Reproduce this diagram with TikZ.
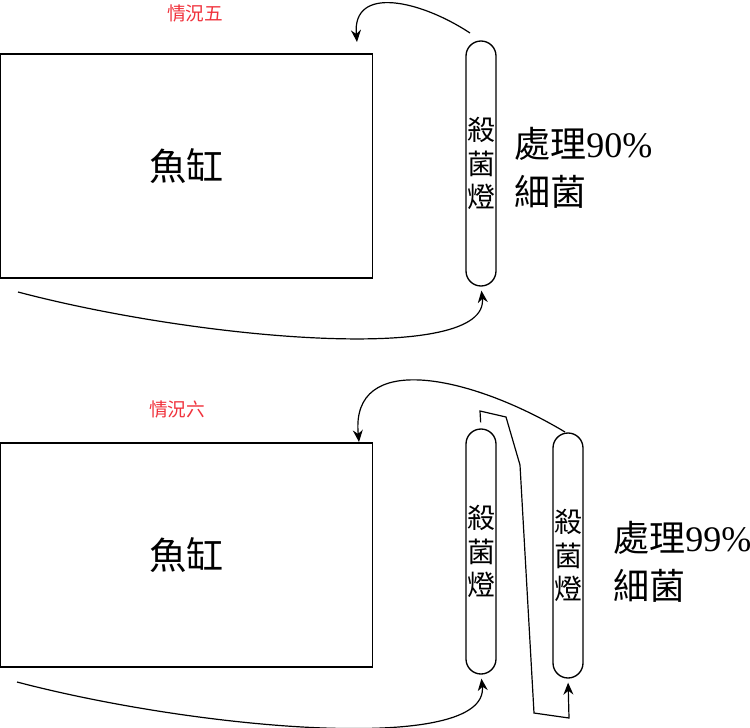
\documentclass[tikz,border=0pt]{standalone}
\usepackage{fontspec}
\setmainfont{Liberation Serif}
\newfontfamily\cjk{Noto Sans CJK TC}
\usetikzlibrary{arrows.meta,positioning}
\definecolor{casered}{RGB}{240,50,60}
\begin{document}
\begin{tikzpicture}[x=0.75pt,y=0.75pt,yscale=-1,xscale=1,
  tank/.style={draw,line width=1.1pt,minimum width=279pt,minimum height=168pt,inner sep=0pt,font=\cjk\fontsize{28}{30}\selectfont},
  lamp/.style={draw,line width=1pt,rounded corners=11.25pt,minimum width=22.5pt,minimum height=183.75pt,inner sep=0.5pt,align=center,font=\cjk\fontsize{21}{25}\selectfont},
  effect/.style={align=left,inner sep=1pt,font=\fontsize{27}{36}\selectfont},
  casename/.style={text=casered,font=\cjk\fontsize{14}{16}\selectfont},
  flow/.style={line width=0.9pt,-{Stealth[length=9pt,width=7.5pt]}}]
\useasboundingbox (0,0) rectangle (750,728);

% case five
\node[casename] (caseA) at (195,14) {情況五};
\node[tank] (tankA) at (186.5,166) {魚缸};
\node[lamp] (lampA) at (481,163.5) {殺\\菌\\燈};
\node[effect,right=12pt of lampA,yshift=-3pt] (effA) {{\cjk 處理}90\%\\{\cjk 細菌}};
\coordinate (outA) at (470,33);
\coordinate (inA) at (357,42);
\coordinate (backA) at (18,292);
\draw[flow] (outA) .. controls (420,0) and (352,-15) .. (inA);
\draw[flow,shorten >=3pt] (backA) .. controls (200,340) and (490,365) .. (lampA.south);

% case six
\node[casename] (caseB) at (177,409) {情況六};
\node[tank] (tankB) at (186.5,555) {魚缸};
\node[lamp] (lampB) at (481,551.5) {殺\\菌\\燈};
\node[lamp] (lampC) at (568,555.5) {殺\\菌\\燈};
\node[effect,right=21pt of lampC,yshift=-5pt] (effB) {{\cjk 處理}99\%\\{\cjk 細菌}};
\coordinate (outB) at (565,432);
\coordinate (inB) at (359,442);
\coordinate (backB) at (17,682);
\draw[flow] (outB) .. controls (470,375) and (350,350) .. (inB);
\draw[flow,shorten >=3pt] (backB) .. controls (200,730) and (490,755) .. (lampB.south);
\draw[flow,shorten <=4.5pt,shorten >=3pt] (lampB.north) -- (480,411) -- (506,417) -- (520,465) -- (534,713) -- (569,718) -- (lampC.south);

\end{tikzpicture}
\end{document}
